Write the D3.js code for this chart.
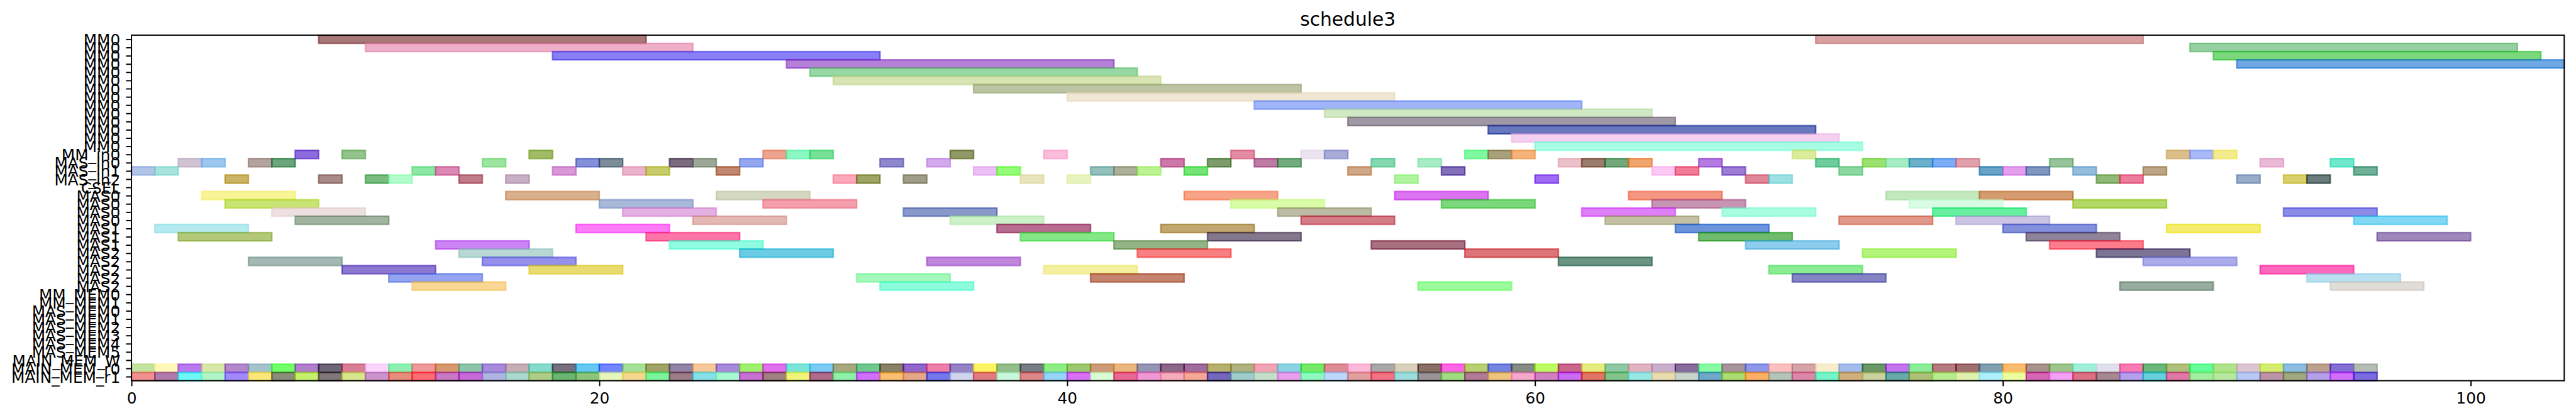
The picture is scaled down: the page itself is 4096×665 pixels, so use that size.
<!DOCTYPE html>
<html>
<head>
<meta charset="utf-8">
<script src="https://cdn.jsdelivr.net/npm/d3@7"></script>
<style>
  html, body { margin: 0; padding: 0; background: #ffffff; }
  svg { display: block; }
  text { font-family: "DejaVu Sans", sans-serif; fill: #000; }
</style>
</head>
<body>
<div id="chart"></div>
<script>
// ---------------- DATA ----------------
const chartTitle = "schedule3";
const rowLabels = [
  "MM0","MM0","MM0","MM0","MM0","MM0","MM0","MM0","MM0","MM0","MM0","MM0","MM0","MM0",
  "MM_in0","MAS_in0","MAS_in1","MAS_in2","CSEL",
  "MAS0","MAS0","MAS0","MAS0","MAS1","MAS1","MAS1","MAS2","MAS2","MAS2","MAS2","MAS2",
  "MM_MEM0","MM_MEM1",
  "MAS_MEM0","MAS_MEM1","MAS_MEM2","MAS_MEM3","MAS_MEM4","MAS_MEM5",
  "MAIN_MEM_W","MAIN_MEM_r0","MAIN_MEM_r1"
];
const xTicks = [0, 20, 40, 60, 80, 100];
const xMax = 104;

// MM tasks: [row, start, end]
const mmTasks = [
  [0,8,22],[0,72,86],[1,10,24],[1,88,102],[2,18,32],[2,89,103],[3,28,42],[3,90,104],
  [4,29,43],[5,30,44],[6,36,50],[7,40,54],[8,48,62],[9,51,65],[10,52,66],[11,58,72],
  [12,59,73],[13,60,74]
];
const mmColors = [
  "#A87878","#D8A0A0","#EEB0C8","#94D0A0","#8880F4","#7CD87C","#B480D8","#70A8E4",
  "#98D8A4","#D8E4B4","#BCC4A4","#F0E6D4","#A0B4F8","#D0E8C4","#A098A4","#6878BC",
  "#F4D0F0","#A8FCE4"
];

// input transfer tasks (rows MM_in0 .. MAS_in2): [row, start, end]
const inTasks = [
  [14,7,8],[14,9,10],[14,17,18],[14,27,28],[14,28,29],[14,29,30],[14,35,36],[14,39,40],[14,47,48],
  [14,50,51],[14,51,52],[14,57,58],[14,58,59],[14,59,60],[14,71,72],[14,87,88],[14,88,89],[14,89,90],
  [15,2,3],[15,3,4],[15,5,6],[15,6,7],[15,15,16],[15,19,20],[15,20,21],[15,23,24],[15,24,25],
  [15,26,27],[15,32,33],[15,34,35],[15,44,45],[15,46,47],[15,48,49],[15,49,50],[15,53,54],[15,55,56],
  [15,61,62],[15,62,63],[15,63,64],[15,64,65],[15,67,68],[15,72,73],[15,74,75],[15,75,76],[15,76,77],
  [15,77,78],[15,78,79],[15,82,83],[15,91,92],[15,94,95],
  [16,0,1],[16,1,2],[16,12,13],[16,13,14],[16,18,19],[16,21,22],[16,22,23],[16,25,26],[16,36,37],
  [16,37,38],[16,41,42],[16,42,43],[16,43,44],[16,45,46],[16,52,53],[16,56,57],[16,65,66],[16,66,67],
  [16,68,69],[16,73,74],[16,79,80],[16,80,81],[16,81,82],[16,83,84],[16,86,87],[16,95,96],
  [17,4,5],[17,8,9],[17,10,11],[17,11,12],[17,14,15],[17,16,17],[17,30,31],[17,31,32],[17,33,34],
  [17,38,39],[17,40,41],[17,54,55],[17,60,61],[17,69,70],[17,70,71],[17,84,85],[17,85,86],[17,90,91],
  [17,92,93],[17,93,94]
];
const inColors = [
  "#8C6CDC","#94C48C","#A0BC64","#ECA490","#8CF8C4","#78E098","#909860","#FCBCDC","#E48CA4",
  "#ECE4F0","#A8ACD8","#80F8A0","#A8A07C","#F4B47C","#DCEC9C","#DCC08C","#A8B8F8","#F4EC8C",
  "#D0C4D4","#9CC8F0","#B4A4A0","#6CA47C","#9CE4A0","#8490D8","#7C8C98","#7C6C80","#9CA898",
  "#94A8F0","#9088CC","#D4A8EC","#CC78A8","#7C9C6C","#BC7CA4","#74AC80","#84D8B0","#A8ECC4",
  "#ECC0C8","#9C7C6C","#74A87C","#F0A470","#B47CE0","#70CC9C","#9CE070","#A8ECC4","#6CB0CC",
  "#7CACF4","#E0A0AC","#94C498","#ECB8D8","#70E8CC",
  "#B0C4E8","#A8E4DC","#8CE8A4","#DC88B4","#D898D8","#ECB4CC","#C8CC6C","#C08870","#ECC0F4",
  "#94FC78","#94C0BC","#ACB098","#BCF494","#74E474","#D0A888","#8470B8","#FCC8F4","#F07C98",
  "#9C7CD4","#8CD8A0","#68A4C8","#E4A0EC","#8098C0","#94BCDC","#BCA484","#70B098",
  "#CCB464","#A88C88","#78BC80","#B4FCCC","#C07C88","#C8B0C4","#FCA8BC","#9CA460","#A09C88",
  "#E8E4BC","#E8F4C0","#B0F4A0","#A06CF4","#E08898","#9CE0E4","#90B878","#EC7C9C","#98ACC8",
  "#D8D06C","#6C7C7C"
];

// MAS compute tasks: [row, start, end]
const masTasks = [
  [19,3,7],[19,16,20],[19,25,29],[19,45,49],[19,54,58],[19,64,68],[19,75,79],[19,79,83],
  [20,4,8],[20,20,24],[20,27,31],[20,47,51],[20,56,60],[20,65,69],[20,76,80],[20,83,87],
  [21,6,10],[21,21,25],[21,33,37],[21,49,53],[21,62,66],[21,68,72],[21,77,81],[21,92,96],
  [22,7,11],[22,24,28],[22,35,39],[22,50,54],[22,63,67],[22,73,77],[22,78,82],[22,95,99],
  [23,1,5],[23,19,23],[23,37,41],[23,44,48],[23,66,70],[23,80,84],[23,87,91],
  [24,2,6],[24,22,26],[24,38,42],[24,46,50],[24,67,71],[24,81,85],[24,96,100],
  [25,13,17],[25,23,27],[25,42,46],[25,53,57],[25,69,73],[25,82,86],
  [26,14,18],[26,26,30],[26,43,47],[26,57,61],[26,74,78],[26,84,88],
  [27,5,9],[27,15,19],[27,34,38],[27,61,65],[27,86,90],
  [28,9,13],[28,17,21],[28,39,43],[28,70,74],[28,91,95],
  [29,11,15],[29,31,35],[29,41,45],[29,71,75],[29,93,97],
  [30,12,16],[30,32,36],[30,55,59],[30,85,89],[30,94,98]
];
const masColors = [
  "#F8F498","#D8B08C","#D4D8C0","#F8A488","#DC74F0","#F49884","#C4E8C0","#D49C70",
  "#C8E474","#A8B8D8","#F4A0AC","#D8FCA8","#7CD87C","#C894B4","#D8FCE4","#B4D868",
  "#EEE0E0","#E4B0E4","#8898C8","#BCBCA4","#E080F8","#A8FCE0","#68F0A0","#8C8CE8",
  "#A0B4A0","#E4B8B4","#CCF0C8","#D47C88","#C4C0A4","#E09888","#CCC4E4","#80D8F4",
  "#B4EAF0","#FC7CF8","#B86C90","#C0A870","#6C94DC","#8490DC","#F4EC6C",
  "#B4C87C","#FC74A8","#84E888","#84788C","#70BC6C","#908498","#A088BC",
  "#CC84F4","#90FCE0","#94B488","#A87080","#8CCCEC","#FC7C8C",
  "#B8D8D4","#6CCCE4","#F88080","#DC7478","#B4F47C","#7C7494",
  "#A4B8B4","#9490EC","#C088DC","#6C9484","#ACACEC",
  "#8C78D0","#E8DC70","#F4F0A0","#8CEC94","#FC68BC",
  "#94A4F0","#A4F8BC","#C48470","#8484C4","#B8E0F0",
  "#F8D894","#8CFCDC","#9CFC9C","#98ACA0","#E0DCD8"
];

// main memory reads: start times (each lasts 1 unit) on rows MAIN_MEM_r0 / MAIN_MEM_r1
const memStarts = [
  0,1,2,3,4,5,6,7,8,9,10,11,12,13,14,15,16,17,18,19,20,21,22,23,24,25,26,27,28,29,30,31,
  32,33,34,35,36,37,38,39,40,41,42,43,44,45,46,47,48,49,50,51,52,53,54,55,56,57,58,59,60,61,62,63,
  64,65,66,67,68,69,70,71,72,73,74,75,76,77,78,79,80,81,82,83,84,85,86,87,88,89,90,91,92,93,94,95
];
const memR0Colors = [
  "#C5E3A0","#FFF8B8","#B87AEE","#D8E6A8","#B488CC","#A4C4CC","#72FF6A","#B27FCC","#6C6478","#D87F98",
  "#FAD4FA","#8EF0B0","#EE9A9A","#D69A70","#8EC4A8","#A88ADC","#C6AEB4","#86DCCC","#787080","#66C8F0",
  "#7484FC","#A6E098","#A0A468","#9284A4","#F4C898","#A888D8","#A0F070","#E070EE","#7CE4D8","#7ACCF4",
  "#A8A880","#70C890","#888068","#9068CC","#EC80A8","#9484C4","#FCF460","#94BE8C","#787C84","#90EC84",
  "#9CC870","#CC9C78","#E8B880","#9894B4","#8C6888","#A06C9C","#B8B070","#B0B080","#F0A4B4","#8CD4E4",
  "#74E868","#DC8C94","#FCB8D8","#A8A8A8","#D8D0B8","#887060","#FC64E4","#B8D070","#7484E0","#848C84",
  "#C0FC60","#C8648C","#E4EC80","#90C8A4","#E0B4C0","#C8B0CC","#886C9C","#88FCA4","#A8949C","#8C98E8",
  "#FCC0C0","#D4A4A8","#F8ECCC","#A4BCEC","#6C9868","#C474EC","#8CEC9C","#B47C80","#A07070","#80A0B0",
  "#FCBC70","#A8948C","#9CC48C","#A0F0D8","#E0E0EC","#F87CB4","#6CB87C","#B0C07C","#64FC98","#B0E48C",
  "#DCC4D0","#D4EC70","#8CBCE0","#BCA090","#8470D4","#B4BCB4"
];
const memR1Colors = [
  "#F09090","#B07CAC","#6EF8F8","#B0F4C8","#A28AFA","#FCE878","#8A8C7C","#C4F06C","#807878","#D8E68E",
  "#CC94CC","#E88C7C","#FC6C74","#C878C4","#C66CD8","#B0B4E0","#AAD8CC","#B0CC88","#6CB474","#8CC47C",
  "#E4F6BC","#F4D890","#7CF49C","#9C7C88","#86E0E8","#AAF8D0","#C870D0","#A08080","#F0F47C","#B06C8C",
  "#90F0A8","#D070FC","#F8C070","#E4A888","#7478EC","#D0D4EC","#E07C80","#C8F8DC","#DC8888","#98D4F8",
  "#D870F4","#D8FCD4","#E86894","#F098D4","#F4ACBC","#F4A898","#7468BC","#A0CCCC","#C4E0CC","#E8A0EC",
  "#90F8C0","#BCD8FC","#E0A0A0","#F07484","#9CDCDC","#989498","#A0DC80","#B07C98","#ECC480","#F4A8CC",
  "#D080C0","#C86CF0","#E07464","#84C48C","#98E8E8","#E8DCB0","#C8D4CC","#70A8C8","#ACDC70","#FCB060",
  "#B4C4B8","#DC88A8","#74F4C8","#D0B07C","#CCD09C","#68AAA8","#ACC078","#B8EC90","#E0F0B0","#B0F0FC",
  "#ECFCA0","#D468B4","#F4A0F4","#DC7084","#A88890","#B4A0EC","#60D0DC","#E078A8","#A4ECA0","#B8E8A0",
  "#B8C8F4","#BC94A8","#A0A880","#B4A0E8","#D070FC","#7C6CE0"
];
const memRowR0 = 40, memRowR1 = 41;

// ---------------- LAYOUT ----------------
const W = 4096, H = 665;
const S = 0.8916;                     // scale from the reference
const plotL = 234.5 * S, plotR = 4573 * S, plotT = 62.7 * S, plotB = 679.3 * S;
const ALPHA = 0.6;
const tickFont = 27.8 * S, titleFont = 33.3 * S;
const tickLen = 9.7 * S, spineW = 2.2 * S, barStroke = 2.7 * S;

const svg = d3.select("#chart").append("svg")
  .attr("width", W).attr("height", H)
  .attr("viewBox", `0 0 ${W} ${H}`);
svg.append("rect").attr("width", W).attr("height", H).attr("fill", "#fff");

const xScale = d3.scaleLinear().domain([0, xMax]).range([plotL, plotR]);
const yScale = d3.scaleLinear().domain([-0.5, rowLabels.length - 0.5]).range([plotT, plotB]);

function baseColor(hex) {
  const c = d3.rgb(hex);
  const f = v => Math.max(0, Math.min(255, 255 - (255 - v) / ALPHA));
  return d3.rgb(f(c.r), f(c.g), f(c.b)).formatHex();
}

const allBars = [];
mmTasks.forEach((t, i) => allBars.push({row: t[0], s: t[1], e: t[2], c: mmColors[i]}));
inTasks.forEach((t, i) => allBars.push({row: t[0], s: t[1], e: t[2], c: inColors[i]}));
masTasks.forEach((t, i) => allBars.push({row: t[0], s: t[1], e: t[2], c: masColors[i]}));
memStarts.forEach((s, i) => allBars.push({row: memRowR0, s: s, e: s + 1, c: memR0Colors[i]}));
memStarts.forEach((s, i) => allBars.push({row: memRowR1, s: s, e: s + 1, c: memR1Colors[i]}));

const plotG = svg.append("g");
plotG.selectAll("rect.bar").data(allBars).join("rect")
  .attr("class", "bar")
  .attr("x", d => xScale(d.s))
  .attr("width", d => xScale(d.e) - xScale(d.s))
  .attr("y", d => yScale(d.row - 0.5))
  .attr("height", d => yScale(d.row + 0.5) - yScale(d.row - 0.5))
  .attr("fill", d => baseColor(d.c))
  .attr("fill-opacity", ALPHA)
  .attr("stroke", d => baseColor(d.c))
  .attr("stroke-opacity", ALPHA)
  .attr("stroke-width", barStroke);

// axes
const xAxis = d3.axisBottom(xScale).tickValues(xTicks).tickFormat(d3.format("d"))
  .tickSize(tickLen).tickSizeOuter(0).tickPadding(9.7 * S);
const gx = svg.append("g").attr("transform", `translate(0,${plotB})`).call(xAxis);
gx.select(".domain").remove();
gx.selectAll(".tick line").attr("stroke", "#000").attr("stroke-width", spineW);
gx.selectAll(".tick text").attr("font-size", tickFont).attr("font-family", "DejaVu Sans")
  .attr("fill", "#000").attr("y", tickLen + 9.7 * S).attr("dy", "0.76em");

const rowIdx = rowLabels.map((_, i) => i);
const yAxis = d3.axisLeft(yScale).tickValues(rowIdx).tickFormat(i => rowLabels[i])
  .tickSize(tickLen).tickSizeOuter(0).tickPadding(10.3 * S);
const gy = svg.append("g").attr("transform", `translate(${plotL},0)`).call(yAxis);
gy.select(".domain").remove();
gy.selectAll(".tick line").attr("stroke", "#000").attr("stroke-width", spineW);
gy.selectAll(".tick text").attr("font-size", tickFont).attr("font-family", "DejaVu Sans")
  .attr("fill", "#000").attr("dy", "0.365em");

// frame
svg.append("rect")
  .attr("x", plotL).attr("y", plotT).attr("width", plotR - plotL).attr("height", plotB - plotT)
  .attr("fill", "none").attr("stroke", "#000").attr("stroke-width", spineW);

// title
svg.append("text")
  .attr("x", (plotL + plotR) / 2).attr("y", 45.6 * S)
  .attr("text-anchor", "middle").attr("font-size", titleFont)
  .text(chartTitle);
</script>
</body>
</html>
